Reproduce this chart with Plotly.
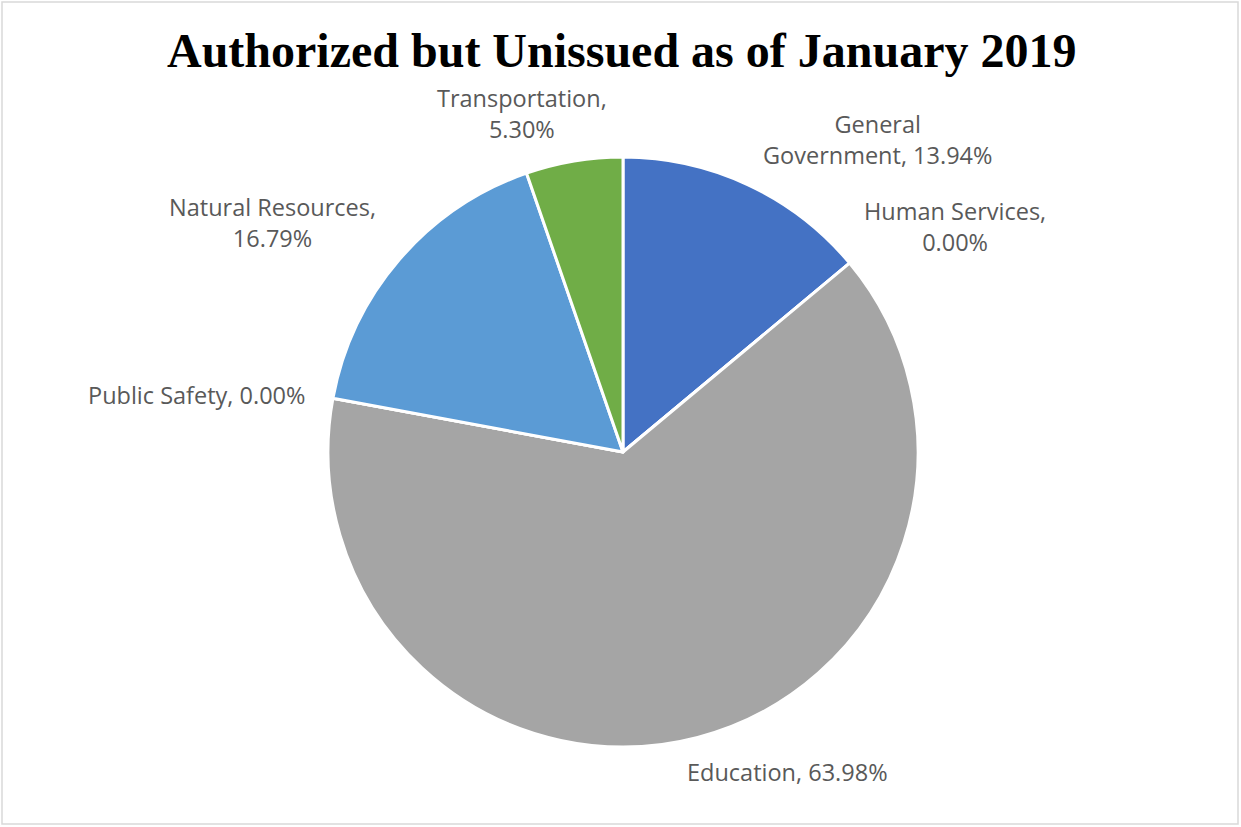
import plotly.graph_objects as go

# Data
categories = ["General Government", "Human Services", "Education",
              "Public Safety", "Natural Resources", "Transportation"]
values = [13.94, 0.00, 63.98, 0.00, 16.79, 5.30]
colors = ["#4472C4", "#ED7D31", "#A5A5A5", "#FFC000", "#5B9BD5", "#70AD47"]
title_text = "Authorized but Unissued as of January 2019"

W, H = 1241, 827

def px(x, y):
    return x / W, 1 - y / H

# label text (line-break choices mimic the original layout)
label_breaks = {
    "General Government": "General<br>Government, {v}",
    "Human Services": "Human Services,<br>{v}",
    "Education": "Education, {v}",
    "Public Safety": "Public Safety, {v}",
    "Natural Resources": "Natural Resources,<br>{v}",
    "Transportation": "Transportation,<br>{v}",
}
label_pos = {
    "General Government": (877, 139),
    "Human Services": (955, 227),
    "Education": (787, 772),
    "Public Safety": (196, 395),
    "Natural Resources": (272, 223),
    "Transportation": (522, 113),
}

fig = go.Figure()
fig.add_trace(go.Pie(
    labels=categories,
    values=values,
    sort=False,
    direction="clockwise",
    rotation=0,
    marker=dict(colors=colors, line=dict(color="white", width=3)),
    textinfo="none",
    hoverinfo="label+percent",
    showlegend=False,
    domain=dict(x=[328 / W, 918 / W], y=[1 - 747 / H, 1 - 157 / H]),
))

annotations = []
for cat, val in zip(categories, values):
    x, y = px(*label_pos[cat])
    annotations.append(dict(
        x=x, y=y, xref="paper", yref="paper",
        text=label_breaks[cat].format(v=f"{val:.2f}%"),
        showarrow=False, xanchor="center", yanchor="middle",
        align="center",
        font=dict(family="Open Sans", size=23.5, color="#595959"),
    ))

tx, ty = px(621, 50)
annotations.append(dict(
    x=tx, y=ty, xref="paper", yref="paper",
    text=f"<b>{title_text}</b>", showarrow=False,
    xanchor="center", yanchor="middle",
    font=dict(family="Liberation Serif", size=48, color="black"),
))

fig.update_layout(
    width=W, height=H,
    margin=dict(l=0, r=0, t=0, b=0),
    paper_bgcolor="white",
    plot_bgcolor="white",
    annotations=annotations,
    shapes=[dict(type="rect", xref="paper", yref="paper",
                 x0=2 / W, x1=1238 / W, y0=1 - 824 / H, y1=1 - 2 / H,
                 line=dict(color="#D9D9D9", width=1.5))],
)

fig.write_html("out.html")
